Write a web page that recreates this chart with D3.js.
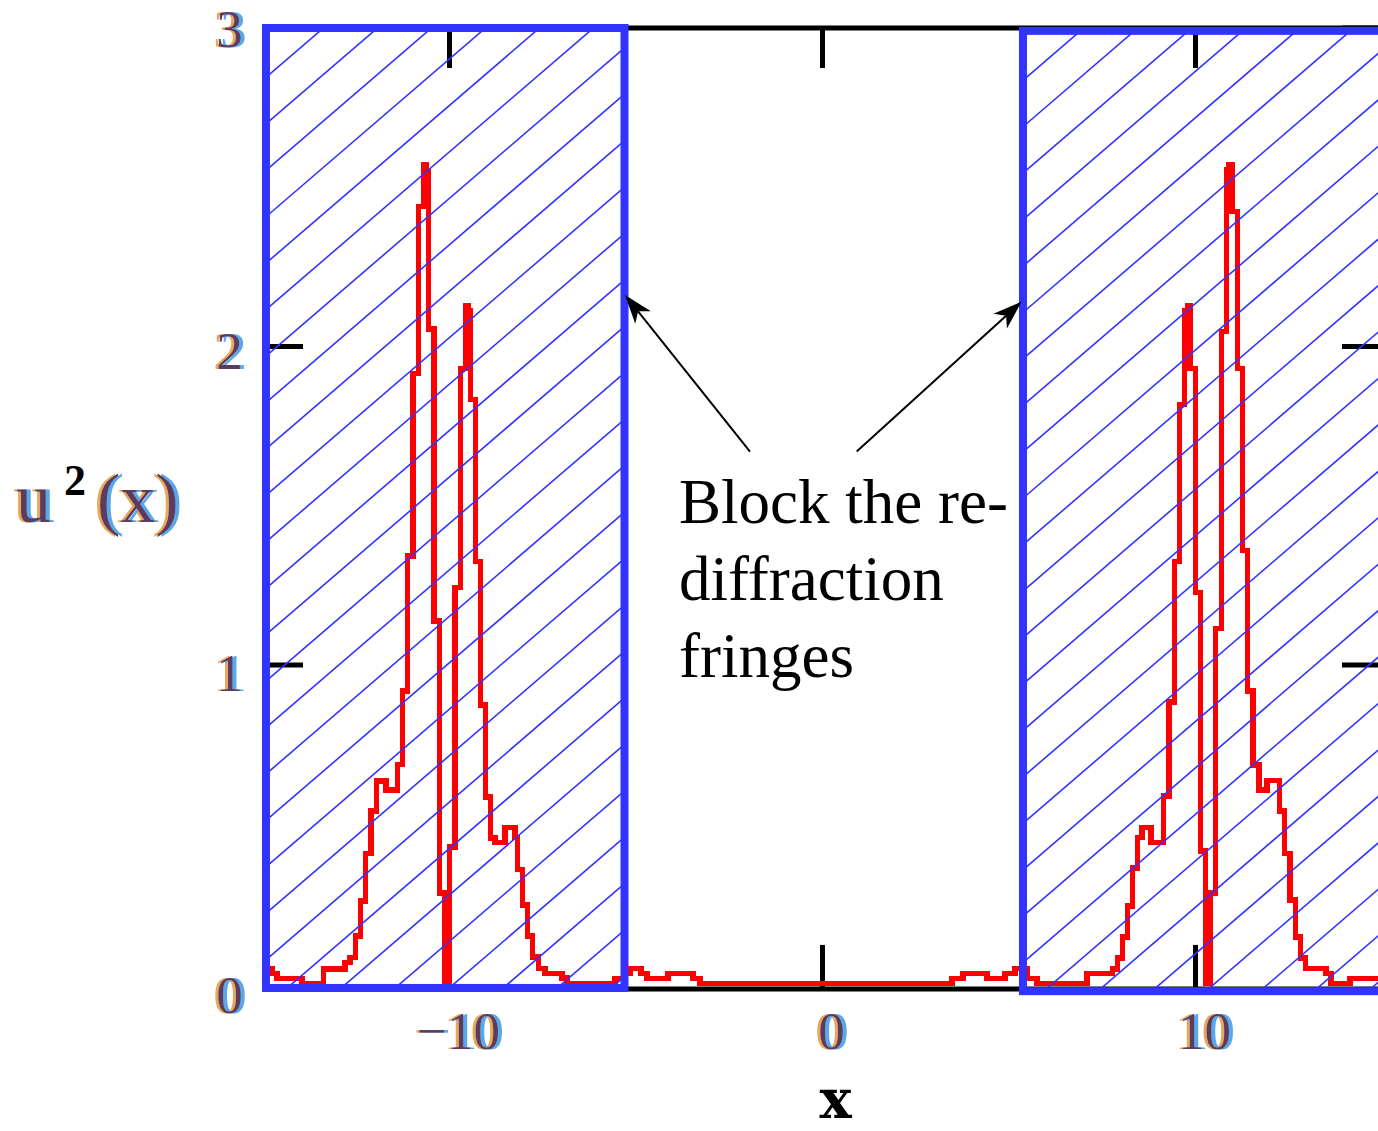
<!DOCTYPE html>
<html>
<head>
<meta charset="utf-8">
<script src="https://cdn.jsdelivr.net/npm/d3@7"></script>
<style>
  html, body { margin: 0; padding: 0; background: #ffffff; }
  svg { display: block; }
</style>
</head>
<body>
<svg id="chart" width="1378" height="1131"></svg>
<script>
// ---- data -------------------------------------------------------------
// Tick positions and labels
const xTicks = [-10, 0, 10];
const xTickLabels = ["\u221210", "0", "10"];
const yTicks = [0, 1, 2, 3];
const yTickLabels = ["0", "1", "2", "3"];

// Intensity profile u^2(x): staircase, each entry is where a level starts
const stepX = [
  -15.000, -14.759, -14.625, -13.954, -13.378, -12.802, -12.668, -12.520,
  -12.386, -12.252, -12.105, -11.957, -11.702, -11.394, -11.260, -11.126,
  -10.979, -10.831, -10.697, -10.630, -10.563, -10.416, -10.268, -10.134,
  -10.000, -9.853, -9.705, -9.571, -9.504, -9.437, -9.303, -9.169,
  -9.035, -8.901, -8.780, -8.512, -8.244, -8.177, -8.043, -7.909,
  -7.775, -7.614, -7.440, -6.984, -6.850, -5.563, -5.295, -5.161,
  -4.866, -4.705, -4.142, -3.472, -3.284, 3.472, 3.767, 4.410,
  4.893, 5.161, 5.483, 5.751, 7.091, 7.775, 7.909, 8.043,
  8.177, 8.311, 8.445, 8.566, 8.807, 9.142, 9.290, 9.437,
  9.571, 9.705, 9.799, 9.853, 10.000, 10.134, 10.268, 10.402,
  10.536, 10.697, 10.831, 10.898, 10.979, 11.126, 11.260, 11.394,
  11.542, 11.702, 11.917, 12.252, 12.386, 12.534, 12.681, 12.815,
  12.949, 13.499, 13.633, 14.142
];
const stepU2 = [
  0.047, 0.031, 0.016, 0.000, 0.046, 0.066, 0.082, 0.149,
  0.259, 0.408, 0.542, 0.636, 0.608, 0.688, 0.918, 1.342,
  1.915, 2.440, 2.571, 2.548, 2.055, 1.138, 0.284, 0.000,
  0.429, 1.243, 1.931, 2.129, 2.113, 1.834, 1.325, 0.874,
  0.586, 0.457, 0.443, 0.490, 0.458, 0.358, 0.246, 0.149,
  0.083, 0.047, 0.031, 0.017, 0.000, 0.016, 0.031, 0.047,
  0.031, 0.016, 0.031, 0.016, 0.000, 0.016, 0.031, 0.016,
  0.031, 0.047, 0.016, 0.000, 0.031, 0.046, 0.080, 0.146,
  0.243, 0.363, 0.458, 0.490, 0.443, 0.589, 0.884, 1.325,
  1.818, 2.113, 2.129, 1.931, 1.228, 0.416, 0.000, 0.284,
  1.115, 2.047, 2.556, 2.571, 2.424, 1.931, 1.359, 0.918,
  0.686, 0.608, 0.637, 0.542, 0.408, 0.262, 0.146, 0.080,
  0.047, 0.031, 0.000, 0.016
];

// Blocked (hatched) regions, in axis units
const blockX0 = [-14.92, 5.375];
const blockX1 = [-5.308, 15.02];
const blockTop = [3.0, 2.991];
const blockBottom = [-0.014, -0.024];

// Annotation
const noteLines = ["Block the re-", "diffraction", "fringes"];
const noteAnchor = [-3.82, 1.445];
const arrowFrom = [[-1.944, 1.670], [0.917, 1.670]];
const arrowTo = [[-5.295, 2.162], [5.340, 2.141]];

// ---- layout -----------------------------------------------------------
const svg = d3.select("#chart");
const x = d3.scaleLinear().domain([-15, 15]).range([263, 1382]);
const y = d3.scaleLinear().domain([0, 3]).range([983.5, 28]);
const frameBottomValue = -0.017;
const tickLen = 40;
const BLUE = "#3333ff";
const serif = "'Liberation Serif', 'Times New Roman', serif";

const defs = svg.append("defs");

// Coloured fringe around the small axis lettering
const fringe = defs.append("filter").attr("id", "fringe")
  .attr("x", "-30%").attr("y", "-20%").attr("width", "160%").attr("height", "140%");
fringe.append("feOffset").attr("in", "SourceAlpha").attr("dx", -3.5).attr("dy", 0).attr("result", "lo");
fringe.append("feFlood").attr("flood-color", "#e8a85a").attr("result", "lc");
fringe.append("feComposite").attr("in", "lc").attr("in2", "lo").attr("operator", "in").attr("result", "left");
fringe.append("feOffset").attr("in", "SourceAlpha").attr("dx", 3.5).attr("dy", 0).attr("result", "ro");
fringe.append("feFlood").attr("flood-color", "#5aa8e8").attr("result", "rc");
fringe.append("feComposite").attr("in", "rc").attr("in2", "ro").attr("operator", "in").attr("result", "right");
const merge = fringe.append("feMerge");
merge.append("feMergeNode").attr("in", "left");
merge.append("feMergeNode").attr("in", "right");
merge.append("feMergeNode").attr("in", "SourceGraphic");

// ---- frame and ticks ---------------------------------------------------
const fx0 = x(-15), fx1 = x(15), fy0 = y(3), fy1 = y(frameBottomValue);
const frame = svg.append("g").attr("stroke", "#000").attr("stroke-width", 5).attr("fill", "none");
frame.append("line").attr("x1", fx0).attr("x2", fx1).attr("y1", fy0).attr("y2", fy0);
frame.append("line").attr("x1", fx0).attr("x2", fx1).attr("y1", fy1).attr("y2", fy1);
frame.append("line").attr("x1", fx0 + 3).attr("x2", fx0 + 3).attr("y1", fy0).attr("y2", fy1);

xTicks.forEach(t => {
  frame.append("line").attr("x1", x(t)).attr("x2", x(t)).attr("y1", fy0).attr("y2", fy0 + tickLen);
  frame.append("line").attr("x1", x(t)).attr("x2", x(t)).attr("y1", fy1).attr("y2", fy1 - tickLen - 4);
});
yTicks.filter(t => t > 0).forEach(t => {
  frame.append("line").attr("x1", fx0).attr("x2", fx0 + tickLen).attr("y1", y(t)).attr("y2", y(t));
  frame.append("line").attr("x1", fx1).attr("x2", fx1 - tickLen).attr("y1", y(t)).attr("y2", y(t));
});

// ---- intensity curve ----------------------------------------------------
const profile = stepX.map((v, i) => [v, stepU2[i]]);
profile.push([15, stepU2[stepU2.length - 1]]);
const line = d3.line().x(d => x(d[0])).y(d => y(d[1])).curve(d3.curveStepAfter);
svg.append("path")
  .datum(profile)
  .attr("d", line)
  .attr("fill", "none")
  .attr("stroke", "#ff0000")
  .attr("stroke-width", 5.5)
  .attr("stroke-linejoin", "miter")
  .attr("shape-rendering", "crispEdges");

// ---- hatched blocking regions ---------------------------------------------
const hatchSlope = 0.86, hatchStep = 54;
blockX0.forEach((bx0, i) => {
  const px0 = x(bx0), px1 = x(blockX1[i]);
  const py0 = y(blockTop[i]), py1 = y(blockBottom[i]);
  const clipId = "blockClip" + i;
  defs.append("clipPath").attr("id", clipId)
    .append("rect").attr("x", px0).attr("y", py0)
    .attr("width", px1 - px0).attr("height", py1 - py0);
  const g = svg.append("g").attr("clip-path", `url(#${clipId})`);
  const vStep = hatchStep * hatchSlope;
  const yStart = py0 + 3;           // a hatch line passes just below the top-left corner
  const nLines = Math.ceil((py1 - py0 + (px1 - px0) * hatchSlope) / vStep) + 2;
  for (let k = -1; k < nLines; k++) {
    const yAtLeft = yStart + k * vStep;
    g.append("line")
      .attr("x1", px0).attr("y1", yAtLeft)
      .attr("x2", px1).attr("y2", yAtLeft - (px1 - px0) * hatchSlope)
      .attr("stroke", BLUE).attr("stroke-width", 1.6);
  }
  svg.append("rect")
    .attr("x", px0).attr("y", py0)
    .attr("width", px1 - px0).attr("height", py1 - py0)
    .attr("fill", "none").attr("stroke", BLUE).attr("stroke-width", 8);
});

// ---- arrows and note --------------------------------------------------------
arrowFrom.forEach((from, i) => {
  const to = arrowTo[i];
  const sx = x(from[0]), sy = y(from[1]), tx = x(to[0]), ty = y(to[1]);
  const len = Math.hypot(tx - sx, ty - sy);
  const ux = (tx - sx) / len, uy = (ty - sy) / len;
  const px = -uy, py = ux;
  const headLen = 29, headHalf = 10, notch = 21;
  svg.append("line")
    .attr("x1", sx).attr("y1", sy)
    .attr("x2", tx - ux * notch).attr("y2", ty - uy * notch)
    .attr("stroke", "#000").attr("stroke-width", 2);
  const pts = [
    [tx, ty],
    [tx - ux * headLen + px * headHalf, ty - uy * headLen + py * headHalf],
    [tx - ux * notch, ty - uy * notch],
    [tx - ux * headLen - px * headHalf, ty - uy * headLen - py * headHalf]
  ];
  svg.append("polygon").attr("points", pts.map(p => p.join(",")).join(" ")).attr("fill", "#000");
});

const note = svg.append("text")
  .attr("font-family", serif)
  .attr("font-size", 63)
  .attr("fill", "#000");
noteLines.forEach((t, i) => {
  note.append("tspan")
    .attr("x", x(noteAnchor[0]) - 1)
    .attr("y", y(noteAnchor[1]) + i * 76.7)
    .text(t);
});

// ---- tick labels and axis titles ----------------------------------------------
const labelBaseline = d3.scaleLinear().domain([0, 3]).range([1013, 47]);

svg.append("g").selectAll("text")
  .data(yTicks)
  .join("text")
  .attr("x", 229.5)
  .attr("y", d => labelBaseline(d))
  .attr("text-anchor", "middle")
  .attr("font-family", serif).attr("font-size", 53)
  .attr("fill", "#5b3a5e")
  .attr("filter", "url(#fringe)")
  .text((d, i) => yTickLabels[i]);

svg.append("g").selectAll("text")
  .data(xTicks)
  .join("text")
  .attr("x", d => x(d) + 9)
  .attr("y", 1049)
  .attr("text-anchor", "middle")
  .attr("font-family", serif).attr("font-size", 53)
  .attr("fill", "#5b3a5e")
  .attr("filter", "url(#fringe)")
  .text((d, i) => xTickLabels[i]);

// y-axis title u^2(x)
svg.append("text")
  .attr("x", 16).attr("y", 522)
  .attr("font-family", serif).attr("font-size", 70)
  .attr("fill", "#5b3a5e").attr("filter", "url(#fringe)")
  .text("u");
svg.append("text")
  .attr("x", 64).attr("y", 495)
  .attr("font-family", serif).attr("font-size", 44).attr("font-weight", "bold")
  .attr("fill", "#000")
  .text("2");
svg.append("text")
  .attr("x", 97).attr("y", 522)
  .attr("font-family", serif).attr("font-size", 70)
  .attr("fill", "#5b3a5e").attr("filter", "url(#fringe)")
  .text("(x)");

// x-axis title
svg.append("text")
  .attr("x", 835.5).attr("y", 1118)
  .attr("text-anchor", "middle")
  .attr("font-family", "'DejaVu Serif', serif").attr("font-size", 54).attr("font-weight", "bold")
  .attr("fill", "#000")
  .text("x");
</script>
</body>
</html>
